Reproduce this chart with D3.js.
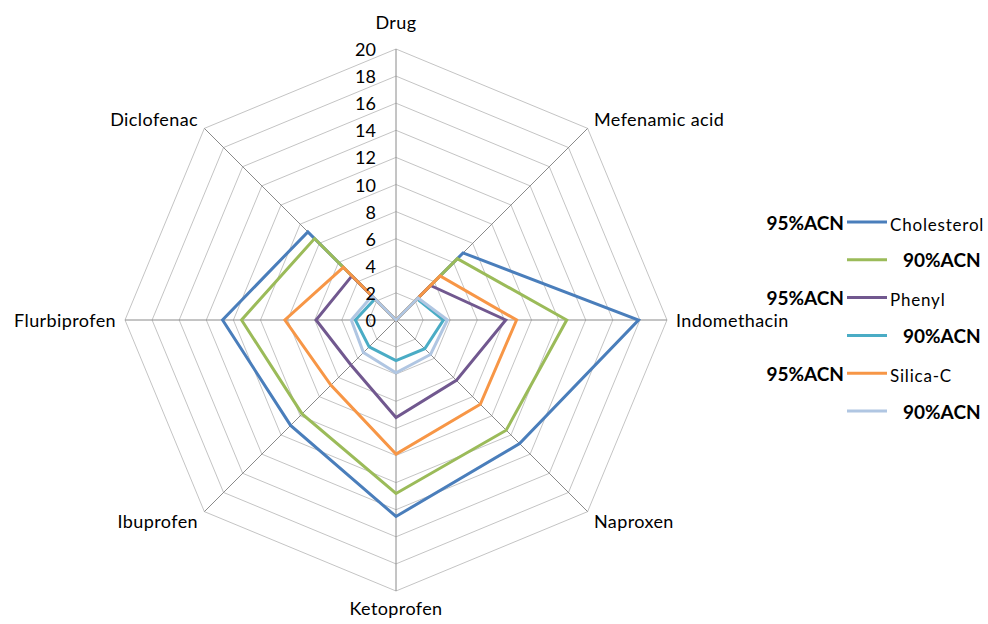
<!DOCTYPE html>
<html>
<head>
<meta charset="utf-8">
<script src="https://cdn.jsdelivr.net/npm/d3@7/dist/d3.min.js"></script>
<style>
  body { margin: 0; background: #fff; }
  svg { font-family: Lato, "Open Sans", sans-serif; }
</style>
</head>
<body>
<div id="holder"></div>
<script>
// axes, clockwise from top
var categories = ["Drug", "Mefenamic acid", "Indomethacin", "Naproxen", "Ketoprofen", "Ibuprofen", "Flurbiprofen", "Diclofenac"];
var ticks = [0, 2, 4, 6, 8, 10, 12, 14, 16, 18, 20];

var cholesterol95 = [0, 7.0, 17.9, 12.9, 14.5, 11.0, 12.8, 9.2];
var cholesterol90 = [0, 6.4, 12.6, 11.5, 12.8, 9.8, 11.4, 8.5];
var phenyl95 = [0, 3.6, 8.1, 6.3, 7.2, 4.7, 5.9, 4.6];
var phenyl90 = [0, 2.2, 3.5, 3.0, 3.0, 2.8, 3.0, 2.2];
var silica95 = [0, 4.6, 8.9, 8.8, 9.9, 6.8, 8.2, 5.5];
var silica90 = [0, 2.3, 3.8, 3.6, 3.9, 3.4, 3.3, 2.5];

var legendLeft = ["95%ACN", "", "95%ACN", "", "95%ACN", ""];
var legendRight = ["Cholesterol", "90%ACN", "Phenyl", "90%ACN", "Silica-C", "90%ACN"];
var colors = ["#4a7ebb", "#9bbb59", "#71588f", "#4aacc5", "#f79646", "#b0c6e2"];

var series = [cholesterol95, cholesterol90, phenyl95, phenyl90, silica95, silica90];

var width = 988, height = 624;
var cx = 396, cy = 320, R = 271;

var svg = d3.select('#holder').append('svg').attr('width', width).attr('height', height);

var r = d3.scaleLinear().domain([0, 20]).range([0, R]);
var angle = d3.scalePoint().domain(categories).range([0, 2 * Math.PI * 7 / 8]);

function pt(cat, v) {
  var a = angle(cat);
  return [cx + r(v) * Math.sin(a), cy - r(v) * Math.cos(a)];
}

// grid rings
var g = svg.append('g');
ticks.slice(1).forEach(function(t) {
  g.append('path')
    .attr('d', d3.line()(categories.map(function(c) { return pt(c, t); })) + 'Z')
    .attr('fill', 'none')
    .attr('stroke', '#c4c4c4')
    .attr('stroke-width', 1);
});

// spokes
categories.forEach(function(c) {
  var p = pt(c, 20);
  g.append('line')
    .attr('x1', cx).attr('y1', cy)
    .attr('x2', p[0]).attr('y2', p[1])
    .attr('stroke', '#8a8a8a')
    .attr('stroke-width', 1);
});

// category labels
categories.forEach(function(c) {
  var a = angle(c);
  var s = Math.sin(a), co = Math.cos(a);
  var x = cx + (R + 9) * s;
  var y = cy - (R + 9) * co;
  var anchor = 'middle';
  if (s > 0.1) anchor = 'start';
  if (s < -0.1) anchor = 'end';
  if (Math.abs(s) < 0.1) y -= co > 0 ? 18 : -8;
  else if (Math.abs(co) > 0.1) y -= co * 4;
  svg.append('text')
    .attr('x', x).attr('y', y)
    .attr('text-anchor', anchor)
    .attr('dominant-baseline', 'central')
    .attr('font-size', 18)
    .attr('letter-spacing', 0.4)
    .attr('fill', '#000')
    .text(c);
});

// series
var line = d3.line();
series.forEach(function(vals, i) {
  var pts = categories.map(function(c, j) { return pt(c, vals[j]); });
  svg.append('path')
    .attr('d', line(pts) + 'Z')
    .attr('fill', 'none')
    .attr('stroke', colors[i])
    .attr('stroke-width', 3)
    .attr('stroke-linejoin', 'miter');
});

// tick labels
ticks.forEach(function(t) {
  svg.append('text')
    .attr('x', cx - 20)
    .attr('y', cy - r(t))
    .attr('text-anchor', 'end')
    .attr('dominant-baseline', 'central')
    .attr('font-size', 18)
    .attr('fill', '#000')
    .text(t);
});

// legend
var ly = d3.scaleLinear().domain([0, 5]).range([222, 411]);
legendRight.forEach(function(txt, i) {
  var y = ly(i);
  svg.append('line')
    .attr('x1', 847).attr('x2', 887)
    .attr('y1', y).attr('y2', y)
    .attr('stroke', colors[i])
    .attr('stroke-width', 3);
  if (legendLeft[i]) {
    svg.append('text')
      .attr('x', 844).attr('y', y)
      .attr('text-anchor', 'end')
      .attr('dominant-baseline', 'central')
      .attr('font-size', 19)
      .attr('font-weight', 'bold')
      .text(legendLeft[i]);
    svg.append('text')
      .attr('x', 890).attr('y', y + 2)
      .attr('dominant-baseline', 'central')
      .attr('font-size', 17)
      .attr('letter-spacing', 0.8)
      .text(txt);
  } else {
    svg.append('text')
      .attr('x', 903).attr('y', y)
      .attr('dominant-baseline', 'central')
      .attr('font-size', 19)
      .attr('font-weight', 'bold')
      .text(txt);
  }
});
</script>
</body>
</html>
